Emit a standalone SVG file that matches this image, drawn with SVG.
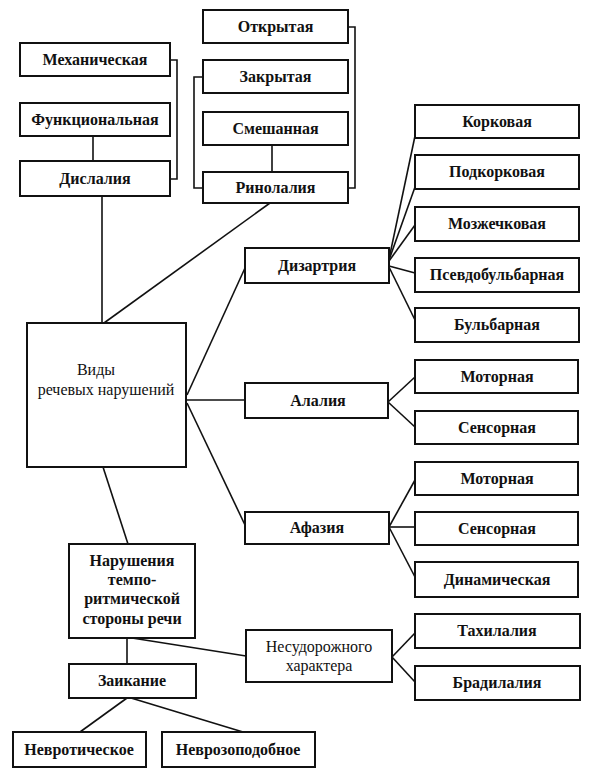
<svg xmlns="http://www.w3.org/2000/svg" width="595" height="774" viewBox="0 0 595 774">
<style>
  .box { fill: #ffffff; stroke: #111111; stroke-width: 2; }
  .lbl { font-family: "Liberation Serif", "DejaVu Serif", serif; font-size: 16px; font-weight: bold; fill: #111111; text-anchor: middle; }
  .lbln { font-family: "Liberation Serif", "DejaVu Serif", serif; font-size: 16px; fill: #111111; text-anchor: middle; }
  .con { fill: none; stroke: #111111; stroke-width: 1.6; }
</style>
<rect width="595" height="774" fill="#ffffff"/>
<g id="connectors">
  <path class="con" d="M93,136 V161"/>
  <path class="con" d="M170,60 H177 V179 H170"/>
  <path class="con" d="M102,196 V323"/>
  <path class="con" d="M272,145 V172"/>
  <path class="con" d="M203,77 H194 V188 H203"/>
  <path class="con" d="M348,27 H355 V188 H348"/>
  <path class="con" d="M270,203 L104,323"/>
  <path class="con" d="M187,395 L245,268"/>
  <path class="con" d="M186,400 H245"/>
  <path class="con" d="M187,403 L245,525"/>
  <path class="con" d="M389,259 L415,136"/>
  <path class="con" d="M389,260 L415,187"/>
  <path class="con" d="M389,261 L415,225"/>
  <path class="con" d="M389,266 L415,273"/>
  <path class="con" d="M389,267 L415,320"/>
  <path class="con" d="M388,402 L415,377"/>
  <path class="con" d="M388,402 L415,427"/>
  <path class="con" d="M389,527 L415,480"/>
  <path class="con" d="M389,527 L415,527"/>
  <path class="con" d="M389,527 L415,577"/>
  <path class="con" d="M103,467 L128,544"/>
  <path class="con" d="M127,638 V664"/>
  <path class="con" d="M132,638 L246,656"/>
  <path class="con" d="M392,657 L415,633"/>
  <path class="con" d="M392,657 L415,682"/>
  <path class="con" d="M127,698 L80,732"/>
  <path class="con" d="M131,698 L243,732"/>
</g>
<g id="n-mech"><rect class="box" x="20" y="43" width="150" height="33"/><text class="lbl" x="95" y="65">Механическая</text></g>
<g id="n-func"><rect class="box" x="20" y="103" width="150" height="33"/><text class="lbl" x="95" y="125">Функциональная</text></g>
<g id="n-disl"><rect class="box" x="20" y="161" width="150" height="35"/><text class="lbl" x="95" y="184">Дислалия</text></g>
<g id="n-open"><rect class="box" x="203" y="10" width="145" height="33"/><text class="lbl" x="275.5" y="32">Открытая</text></g>
<g id="n-closed"><rect class="box" x="203" y="60" width="145" height="33"/><text class="lbl" x="275.5" y="82">Закрытая</text></g>
<g id="n-mixed"><rect class="box" x="203" y="112" width="145" height="33"/><text class="lbl" x="275.5" y="134">Смешанная</text></g>
<g id="n-rhino"><rect class="box" x="203" y="172" width="145" height="31"/><text class="lbl" x="275.5" y="193">Ринолалия</text></g>
<g id="n-root"><rect class="box" x="27" y="323" width="159" height="144"/><text class="lbln" x="96" y="375">Виды</text><text class="lbln" x="106" y="395">речевых нарушений</text></g>
<g id="n-dysarth"><rect class="box" x="245" y="248" width="144" height="35"/><text class="lbl" x="317" y="271">Дизартрия</text></g>
<g id="n-alalia"><rect class="box" x="245" y="383" width="143" height="35"/><text class="lbl" x="318" y="406">Алалия</text></g>
<g id="n-aphasia"><rect class="box" x="245" y="512" width="144" height="32"/><text class="lbl" x="317" y="533">Афазия</text></g>
<g id="n-cort"><rect class="box" x="415" y="105" width="164" height="33"/><text class="lbl" x="497" y="127">Корковая</text></g>
<g id="n-subcort"><rect class="box" x="415" y="155" width="164" height="34"/><text class="lbl" x="497" y="177">Подкорковая</text></g>
<g id="n-cereb"><rect class="box" x="415" y="207" width="164" height="34"/><text class="lbl" x="497" y="229">Мозжечковая</text></g>
<g id="n-pseudo"><rect class="box" x="415" y="258" width="164" height="34"/><text class="lbl" x="497" y="280">Псевдобульбарная</text></g>
<g id="n-bulb"><rect class="box" x="415" y="308" width="164" height="34"/><text class="lbl" x="497" y="330">Бульбарная</text></g>
<g id="n-al-motor"><rect class="box" x="415" y="360" width="163" height="33"/><text class="lbl" x="497" y="382">Моторная</text></g>
<g id="n-al-sens"><rect class="box" x="415" y="411" width="163" height="33"/><text class="lbl" x="497" y="433">Сенсорная</text></g>
<g id="n-af-motor"><rect class="box" x="415" y="462" width="163" height="33"/><text class="lbl" x="497" y="484">Моторная</text></g>
<g id="n-af-sens"><rect class="box" x="415" y="512" width="163" height="33"/><text class="lbl" x="497" y="534">Сенсорная</text></g>
<g id="n-af-dyn"><rect class="box" x="415" y="562" width="163" height="35"/><text class="lbl" x="497" y="585">Динамическая</text></g>
<g id="n-tempo"><rect class="box" x="69" y="544" width="126" height="94"/><text class="lbl" x="132" y="566">Нарушения</text><text class="lbl" x="132" y="585">темпо-</text><text class="lbl" x="132" y="604">ритмической</text><text class="lbl" x="132" y="624">стороны речи</text></g>
<g id="n-nonconv"><rect class="box" x="246" y="630" width="146" height="52"/><text class="lbln" x="319" y="652">Несудорожного</text><text class="lbln" x="319" y="671">характера</text></g>
<g id="n-tachy"><rect class="box" x="415" y="614" width="165" height="34"/><text class="lbl" x="497" y="636">Тахилалия</text></g>
<g id="n-brady"><rect class="box" x="415" y="666" width="165" height="34"/><text class="lbl" x="497" y="688">Брадилалия</text></g>
<g id="n-stutter"><rect class="box" x="69" y="664" width="127" height="34"/><text class="lbl" x="132" y="686">Заикание</text></g>
<g id="n-neurotic"><rect class="box" x="13" y="732" width="133" height="35"/><text class="lbl" x="79" y="755">Невротическое</text></g>
<g id="n-neurosis-like"><rect class="box" x="162" y="732" width="153" height="35"/><text class="lbl" x="238" y="755">Неврозоподобное</text></g>
</svg>
